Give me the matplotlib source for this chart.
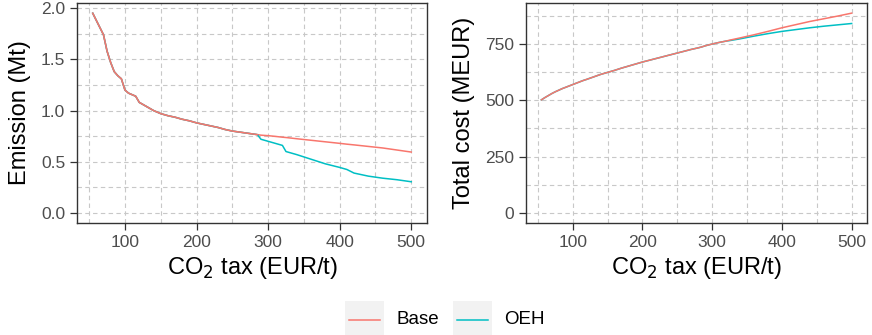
import matplotlib
matplotlib.use("Agg")
import matplotlib.pyplot as plt
from matplotlib.patches import Rectangle
from matplotlib.lines import Line2D
from matplotlib.ticker import MultipleLocator

plt.rcParams["font.family"] = ["Liberation Sans", "DejaVu Sans"]

# CO2 tax levels (EUR/t)
tax = [55, 60, 65, 70, 75, 80, 85, 90, 95, 100, 105, 110, 115, 120, 130, 140,
       150, 160, 170, 180, 190, 200, 210, 220, 230, 240, 250, 260, 270, 280,
       285, 290, 300, 310, 320, 325, 340, 360, 380, 400, 410, 420, 440, 460,
       480, 500]

# Emission (Mt)
emis_base = [1.95, 1.88, 1.81, 1.74, 1.58, 1.47, 1.38, 1.34, 1.31, 1.20, 1.17,
             1.155, 1.14, 1.08, 1.04, 1.00, 0.97, 0.95, 0.935, 0.915, 0.90,
             0.88, 0.865, 0.85, 0.835, 0.815, 0.80, 0.79, 0.78, 0.77, 0.765,
             0.76, 0.755, 0.748, 0.74, 0.737, 0.725, 0.71, 0.695, 0.68, 0.672,
             0.665, 0.65, 0.635, 0.615, 0.595]
emis_oeh = [1.95, 1.88, 1.81, 1.74, 1.58, 1.47, 1.38, 1.34, 1.31, 1.20, 1.17,
            1.155, 1.14, 1.08, 1.04, 1.00, 0.97, 0.95, 0.935, 0.915, 0.90,
            0.88, 0.865, 0.85, 0.835, 0.815, 0.80, 0.79, 0.78, 0.77, 0.765,
            0.72, 0.70, 0.68, 0.66, 0.60, 0.57, 0.525, 0.48, 0.445, 0.425,
            0.39, 0.36, 0.34, 0.325, 0.305]

# Total cost (MEUR)
cost_base = [502, 512, 521, 530, 538, 545, 552, 558, 564, 570, 576, 582, 588,
             593, 604, 615, 624, 633, 643, 652, 661, 670, 678, 686, 694, 702,
             710, 718, 726, 733, 737, 742, 750, 757, 763, 767, 777, 791, 806,
             822, 829, 836, 850, 862, 874, 887]
cost_oeh = [502, 512, 521, 530, 538, 545, 552, 558, 564, 570, 576, 582, 588,
            593, 604, 615, 624, 633, 643, 652, 661, 670, 678, 686, 694, 702,
            710, 718, 726, 733, 737, 742, 750, 757, 763, 765, 773, 785, 796,
            806, 810, 814, 822, 829, 835, 841]

series = ["Base", "OEH"]
colors = {"Base": "#F8766D", "OEH": "#00BFC4"}

fig = plt.figure(figsize=(8.72, 3.35), dpi=100)
ax1 = fig.add_axes([77 / 872, 1 - 223 / 335, 350 / 872, 220 / 335])
ax2 = fig.add_axes([526 / 872, 1 - 223 / 335, 341 / 872, 220 / 335])


def style(ax, ylabel):
    ax.set_facecolor("white")
    ax.xaxis.set_major_locator(MultipleLocator(100))
    ax.xaxis.set_minor_locator(MultipleLocator(50))
    ax.grid(True, which="both", color="#C8C8C8", linestyle=(0, (4, 3)),
            linewidth=0.8)
    ax.set_axisbelow(True)
    for s in ax.spines.values():
        s.set_color("#333333")
        s.set_linewidth(1.0)
    ax.tick_params(which="major", length=5, width=0.9, color="#333333",
                   labelsize=12.5, labelcolor="#4D4D4D", pad=3.5)
    ax.tick_params(which="minor", length=0)
    ax.set_xlim(33, 522)
    ax.set_xlabel("CO$_2$ tax (EUR/t)", fontsize=17, labelpad=4)
    ax.set_ylabel(ylabel, fontsize=17, labelpad=7)


ax1.plot(tax, emis_base, color=colors["Base"], lw=1.1)
ax1.plot(tax, emis_oeh, color=colors["OEH"], lw=1.1)
ax1.plot(tax[:31], emis_base[:31], color=colors["Base"], lw=1.1)
style(ax1, "Emission (Mt)")
ax1.set_ylim(-0.0975, 2.05)
ax1.yaxis.set_major_locator(MultipleLocator(0.5))
ax1.yaxis.set_minor_locator(MultipleLocator(0.25))
ax1.yaxis.set_major_formatter(lambda v, p: f"{v:.1f}")

ax2.plot(tax, cost_oeh, color=colors["OEH"], lw=1.1)
ax2.plot(tax, cost_base, color=colors["Base"], lw=1.1)
style(ax2, "Total cost (MEUR)")
ax2.set_ylim(-44.5, 932)
ax2.yaxis.set_major_locator(MultipleLocator(250))
ax2.yaxis.set_minor_locator(MultipleLocator(125))

# legend at the bottom, ggplot style
key_x = {"Base": 345, "OEH": 453}
for name in series:
    x0 = key_x[name]
    fig.patches.append(Rectangle((x0 / 872, 0), 39 / 872, 34 / 335,
                                 transform=fig.transFigure,
                                 facecolor="#F2F2F2", edgecolor="none"))
    fig.lines.append(Line2D([(x0 + 4) / 872, (x0 + 35) / 872],
                            [1 - 320 / 335] * 2, transform=fig.transFigure,
                            color=colors[name], lw=1.1))
    fig.text((x0 + 51) / 872, 1 - 320 / 335, name, fontsize=13.5,
             va="center", ha="left", color="black")

fig.savefig("out.png", dpi=100)
